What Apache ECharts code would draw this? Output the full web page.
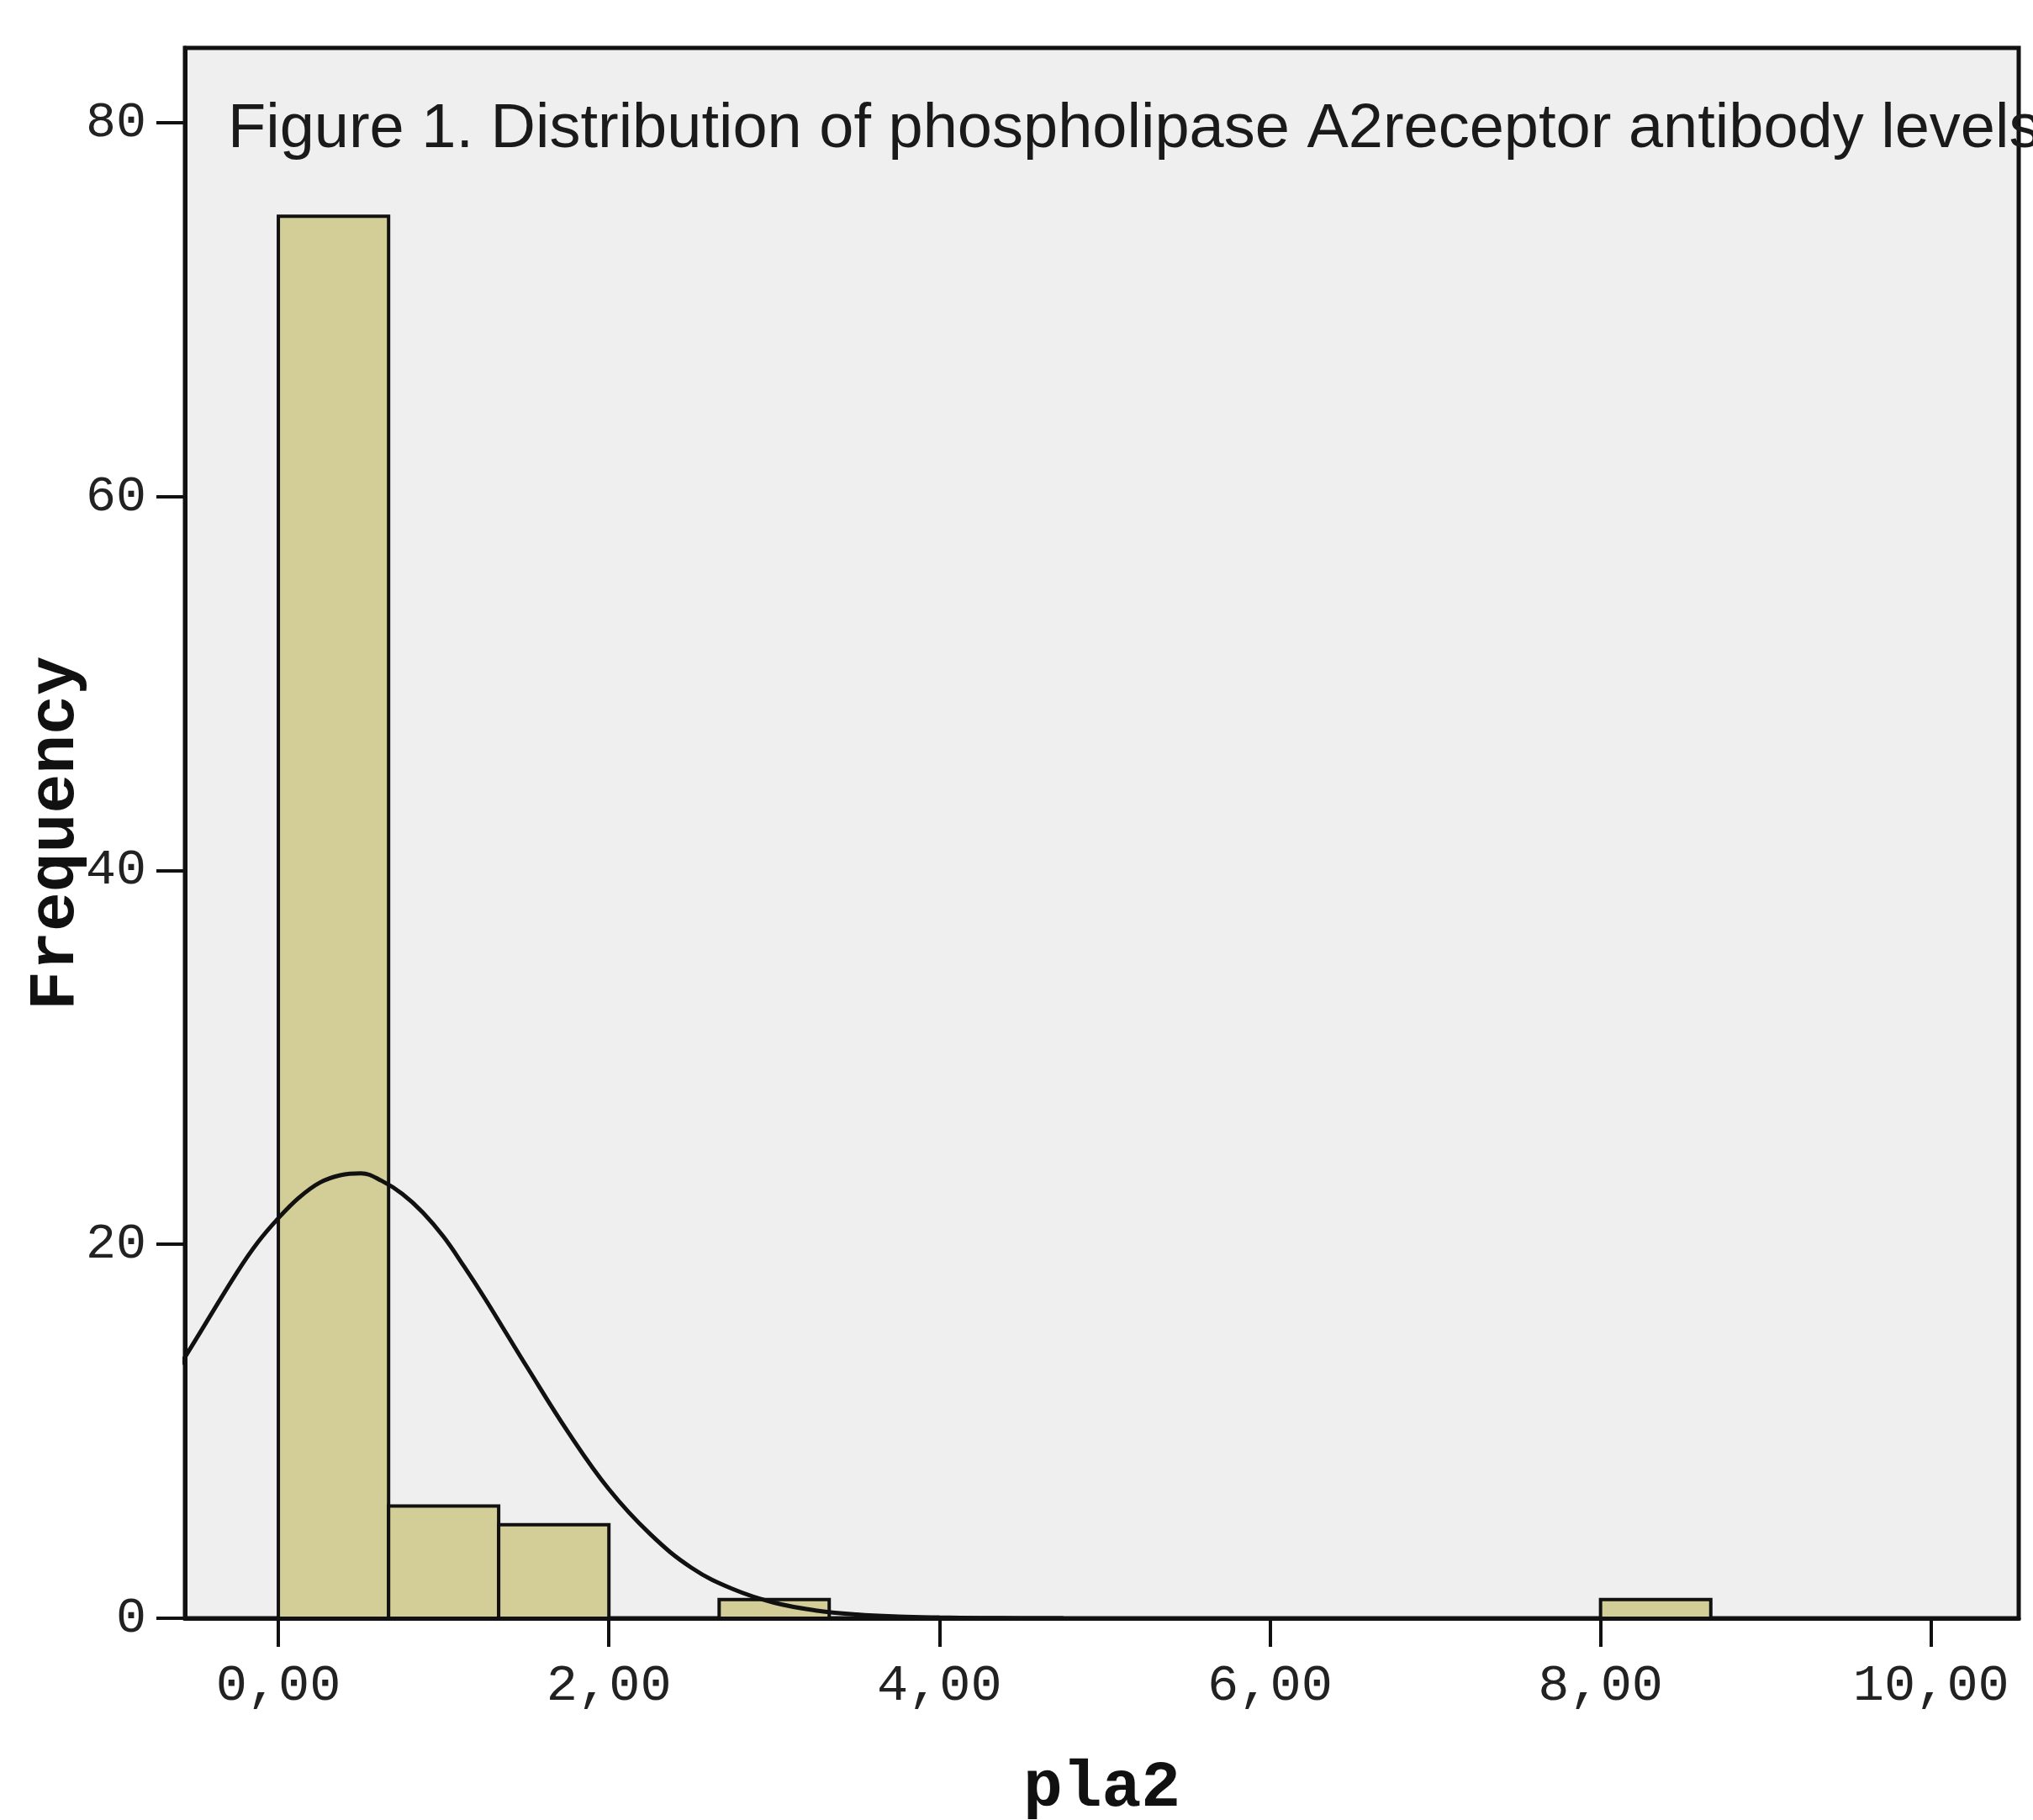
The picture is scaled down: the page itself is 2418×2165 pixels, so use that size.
<!DOCTYPE html>
<html>
<head>
<meta charset="utf-8">
<title>pla2 histogram</title>
<script src="https://cdn.jsdelivr.net/npm/echarts@6/dist/echarts.min.js"></script>
<style>
	body { margin: 0; background: #ffffff; }
	#chart { width: 2418px; height: 2165px; }
</style>
</head>
<body>
<div id="chart"></div>
<script>
// histogram bins (pla2)
var binLow = [0, 0.667, 1.333, 2.667, 8.0];
var binHigh = [0.667, 1.333, 2.0, 3.333, 8.667];
var binCount = [75, 6, 5, 1, 1];

// fitted normal curve (clipped at the plot edge)
var curveX = [-0.75, -0.5, -0.25, -0.125, 0, 0.125, 0.25, 0.375, 0.5, 0.625, 0.75, 0.875, 1, 1.125, 1.25, 1.375, 1.5, 1.75, 2, 2.25, 2.5, 2.75, 3, 3.25, 3.5, 3.75, 4, 4.25, 4.5, 4.75];
var curveY = [11.3, 14.9, 18.5, 20.1, 21.4, 22.5, 23.3, 23.7, 23.8, 23.4, 22.7, 21.7, 20.4, 18.8, 17.1, 15.3, 13.5, 10.0, 6.9, 4.5, 2.7, 1.56, 0.83, 0.42, 0.2, 0.09, 0.04, 0.015, 0.005, 0];

// tick labels
var xTicks = [0, 2, 4, 6, 8, 10];
var yTicks = [0, 20, 40, 60, 80];

var titleText = 'Figure 1. Distribution of phospholipase A2receptor antibody levels';

var LINE_COLOR = '#111111';
var BAR_COLOR = '#D3CE97';

function renderBin(params, api) {
	var lowPt = api.coord([api.value(0), 0]);
	var highPt = api.coord([api.value(1), api.value(2)]);
	return {
		type: 'rect',
		shape: {
			x: lowPt[0],
			y: highPt[1],
			width: highPt[0] - lowPt[0],
			height: lowPt[1] - highPt[1]
		},
		style: {
			fill: BAR_COLOR,
			stroke: LINE_COLOR,
			lineWidth: 4
		}
	};
}

function formatTick(v) {
	// comma as decimal mark, like the original
	return v.toFixed(2).replace('.', ',');
}

var binData = [];
for (var i = 0; i < binLow.length; i++) {
	binData.push([binLow[i], binHigh[i], binCount[i]]);
}
var curveData = [];
for (var j = 0; j < curveX.length; j++) {
	curveData.push([curveX[j], curveY[j]]);
}

var myChart = echarts.init(document.getElementById('chart'));
myChart.setOption({
	animation: false,
	backgroundColor: '#ffffff',
	title: {
		text: titleText,
		left: 266,
		top: 113,
		z: 10,
		textStyle: {
			fontFamily: 'Liberation Sans',
			fontSize: 74,
			fontWeight: 'normal',
			color: '#1a1a1a'
		}
	},
	grid: {
		left: 220,
		top: 57,
		right: 17,
		bottom: 240,
		containLabel: false,
		outerBoundsMode: 'none',
		show: true,
		backgroundColor: '#EFEFEF',
		borderColor: LINE_COLOR,
		borderWidth: 5
	},
	xAxis: {
		type: 'value',
		min: -0.565,
		max: 10.53,
		name: 'pla2',
		nameLocation: 'middle',
		nameGap: 164,
		nameMoveOverlap: false,
		nameTextStyle: {
			fontFamily: 'Liberation Mono',
			fontWeight: 'bold',
			fontSize: 78,
			color: LINE_COLOR
		},
		axisLine: {
			show: true,
			onZero: false,
			lineStyle: { color: LINE_COLOR, width: 5 }
		},
		axisTick: {
			show: true,
			inside: false,
			length: 34,
			customValues: xTicks,
			lineStyle: { color: LINE_COLOR, width: 4 }
		},
		axisLabel: {
			customValues: xTicks,
			margin: 50,
			fontFamily: 'Liberation Mono',
			fontSize: 62,
			color: '#222222',
			formatter: formatTick
		},
		splitLine: { show: false }
	},
	yAxis: {
		type: 'value',
		min: 0,
		max: 84,
		name: 'Frequency',
		nameLocation: 'middle',
		nameGap: 114,
		nameMoveOverlap: false,
		nameTextStyle: {
			fontFamily: 'Liberation Mono',
			fontWeight: 'bold',
			fontSize: 78,
			color: LINE_COLOR
		},
		axisLine: {
			show: true,
			onZero: false,
			lineStyle: { color: LINE_COLOR, width: 5 }
		},
		axisTick: {
			show: true,
			inside: false,
			length: 34,
			customValues: yTicks,
			lineStyle: { color: LINE_COLOR, width: 4 }
		},
		axisLabel: {
			customValues: yTicks,
			margin: 46,
			fontFamily: 'Liberation Mono',
			fontSize: 60,
			color: '#222222'
		},
		splitLine: { show: false }
	},
	series: [{
			name: 'bins',
			type: 'custom',
			renderItem: renderBin,
			encode: { x: [0, 1], y: 2 },
			data: binData,
			z: 2
		},
		{
			name: 'normal',
			type: 'line',
			data: curveData,
			smooth: 0.4,
			symbol: 'none',
			clip: true,
			lineStyle: { color: LINE_COLOR, width: 5 },
			z: 3
		}
	]
});
</script>
</body>
</html>
